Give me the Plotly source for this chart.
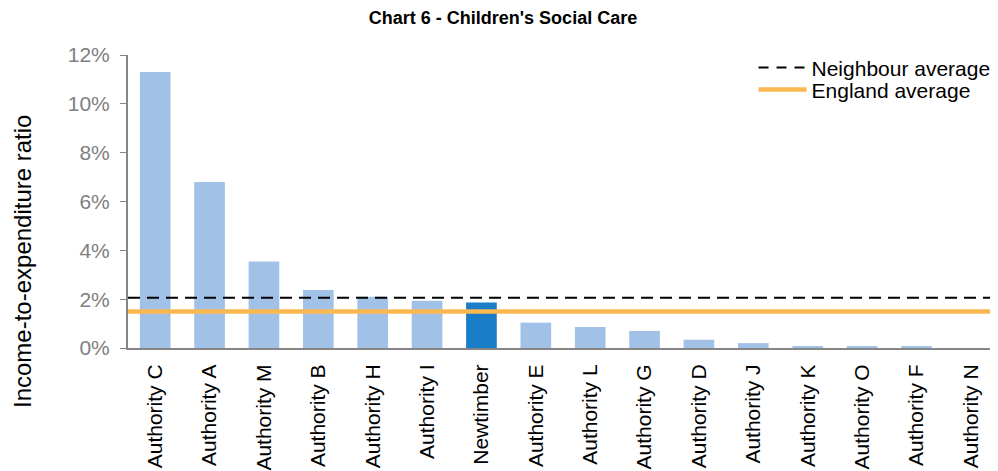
import plotly.graph_objects as go

categories = ["Authority C", "Authority A", "Authority M", "Authority B", "Authority H",
              "Authority I", "Newtimber", "Authority E", "Authority L", "Authority G",
              "Authority D", "Authority J", "Authority K", "Authority O", "Authority F",
              "Authority N"]
ratios = [0.113, 0.068, 0.0354, 0.0238, 0.0210, 0.0194, 0.0186, 0.0104, 0.0086, 0.0070,
          0.0034, 0.0020, 0.0005, 0.0005, 0.0005, 0.0]
highlight = "Newtimber"
neighbour_avg = 0.0206
england_avg = 0.0150
y_ticks = [0, 0.02, 0.04, 0.06, 0.08, 0.10, 0.12]

light = "#A2C1E7"
dark = "#1A7DC8"
orange = "#FBB850"
bar_colors = [dark if c == highlight else light for c in categories]

fig = go.Figure()
fig.add_trace(go.Bar(x=categories, y=ratios, marker=dict(color=bar_colors, line=dict(width=0)),
                     showlegend=False))
fig.add_hline(y=neighbour_avg, line=dict(color="black", dash="12px,7px", width=2), layer="above")
fig.add_hline(y=england_avg, line=dict(color=orange, width=4.5), layer="above")
fig.add_trace(go.Scatter(x=[None], y=[None], mode="lines", name="Neighbour average",
                         line=dict(color="black", dash="10px,8px", width=2), legend="legend"))
fig.add_trace(go.Scatter(x=[None], y=[None], mode="lines", name="England average",
                         line=dict(color=orange, width=4.5), legend="legend2"))

legend_common = dict(x=0.719, xanchor="left", yanchor="middle", bgcolor="rgba(0,0,0,0)",
                     font=dict(size=21, color="black"), itemwidth=48)

fig.update_layout(
    width=990, height=463,
    margin=dict(l=120, r=0, t=47, b=123, autoexpand=False),
    paper_bgcolor="white", plot_bgcolor="white",
    font=dict(family="Liberation Sans, Arial, sans-serif"),
    title=dict(text="<b>Chart 6 - Children's Social Care</b>", x=0.5, xanchor="center",
               y=0.978, yanchor="middle", font=dict(size=18, color="black")),
    bargap=0.436,
    showlegend=True,
    legend=dict(y=0.956, **legend_common),
    legend2=dict(y=0.881, **legend_common),
    xaxis=dict(tickangle=-90, tickfont=dict(size=21, color="black"), showline=True,
               linecolor="#868686", linewidth=2, ticks="", showgrid=False,
               range=[-0.5, 15.5], automargin=False, ticklabelstandoff=6),
    yaxis=dict(range=[0, 0.12], tickvals=y_ticks, tickformat=".0%",
               tickfont=dict(size=21, color="#808080"), showline=True,
               linecolor="#868686", linewidth=2, ticks="outside", ticklen=6,
               tickcolor="#868686", showgrid=False, zeroline=False, automargin=False,
               ticklabelstandoff=6),
    annotations=[dict(text="Income-to-expenditure ratio", textangle=-90,
                      xref="paper", yref="paper", x=-0.1205, y=0.294,
                      xanchor="center", yanchor="middle", showarrow=False,
                      font=dict(size=24, color="black"))],
)

fig.write_html("out.html")
